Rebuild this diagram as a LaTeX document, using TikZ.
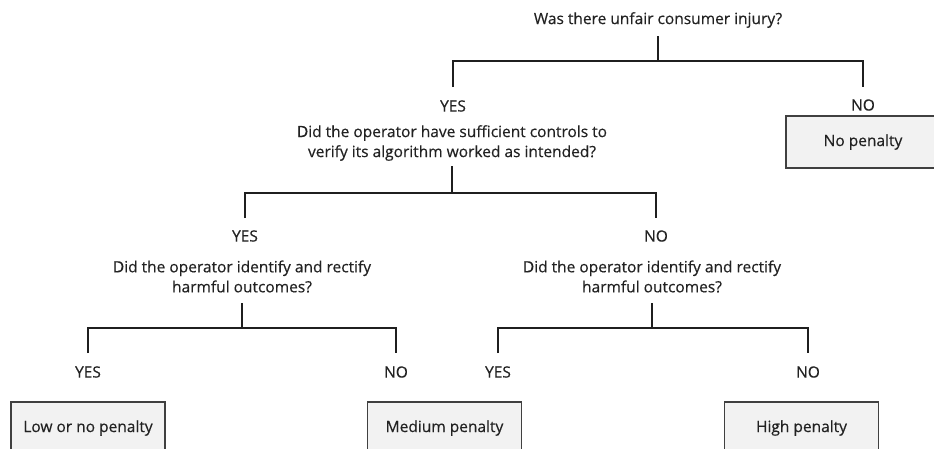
\documentclass[tikz,border=0pt]{standalone}
\usepackage{fontspec}
\newfontfamily\diagfont[FakeBold=0.4]{Open Sans}
\definecolor{txtc}{HTML}{222222}
\definecolor{boxfill}{HTML}{F2F2F2}
\definecolor{boxline}{HTML}{404040}
\begin{document}
\begin{tikzpicture}[x=1pt,y=-1pt,
  txt/.style={font=\diagfont\fontsize{15.5}{20}\selectfont, text=txtc, inner sep=0pt, align=center},
  outcome/.style={txt, draw=boxline, fill=boxfill, line width=1.1pt, minimum width=154pt, minimum height=52pt},
  tree/.style={line width=1.8pt, draw=black!88}]
\useasboundingbox (0,0) rectangle (934,448);
\clip (0,0) rectangle (934,448);

% level 1
\node[txt] (q1) at (658,20) {Was there unfair consumer injury?};
\coordinate (j1) at (658,61);
\node[txt] (yes1) at (453,106) {YES};
\node[txt] (no1) at (863,105) {NO};
\node[outcome] (nopen) at (863,142) {No penalty};

% level 2
\node[txt] (q2) at (452,143) {Did the operator have sufficient controls to\\verify its algorithm worked as intended?};
\coordinate (j2) at (452,193);
\node[txt] (yes2) at (245,236) {YES};
\node[txt] (no2) at (656,236) {NO};

% level 3
\node[txt] (q3a) at (242,276.5) {Did the operator identify and rectify\\harmful outcomes?};
\node[txt] (q3b) at (652,276.5) {Did the operator identify and rectify\\harmful outcomes?};
\coordinate (j3a) at (242,328);
\coordinate (j3b) at (652,328);
\node[txt] (yes3a) at (88,372) {YES};
\node[txt] (no3a) at (396,372) {NO};
\node[txt] (yes3b) at (498,372) {YES};
\node[txt] (no3b) at (808,372) {NO};

% outcomes
\node[outcome] (low) at (88,428) {Low or no penalty};
\node[outcome] (med) at (444.5,428) {Medium penalty};
\node[outcome] (high) at (801.5,428) {High penalty};

% connectors
\draw[tree] ([yshift=-16pt]q1.center) -- (j1);
\draw[tree] ([yshift=19pt]yes1.center) |- (j1) -| ([yshift=18pt]no1.center);

\draw[tree] ([yshift=-23pt]q2.center) -- (j2);
\draw[tree] ([yshift=18pt]yes2.center) |- (j2) -| ([yshift=18pt]no2.center);

\draw[tree] ([yshift=-26.5pt]q3a.center) -- (j3a);
\draw[tree] ([yshift=19pt]yes3a.center) |- (j3a) -| ([yshift=19pt]no3a.center);

\draw[tree] ([yshift=-26.5pt]q3b.center) -- (j3b);
\draw[tree] ([yshift=19pt]yes3b.center) |- (j3b) -| ([yshift=19pt]no3b.center);
\end{tikzpicture}
\end{document}
